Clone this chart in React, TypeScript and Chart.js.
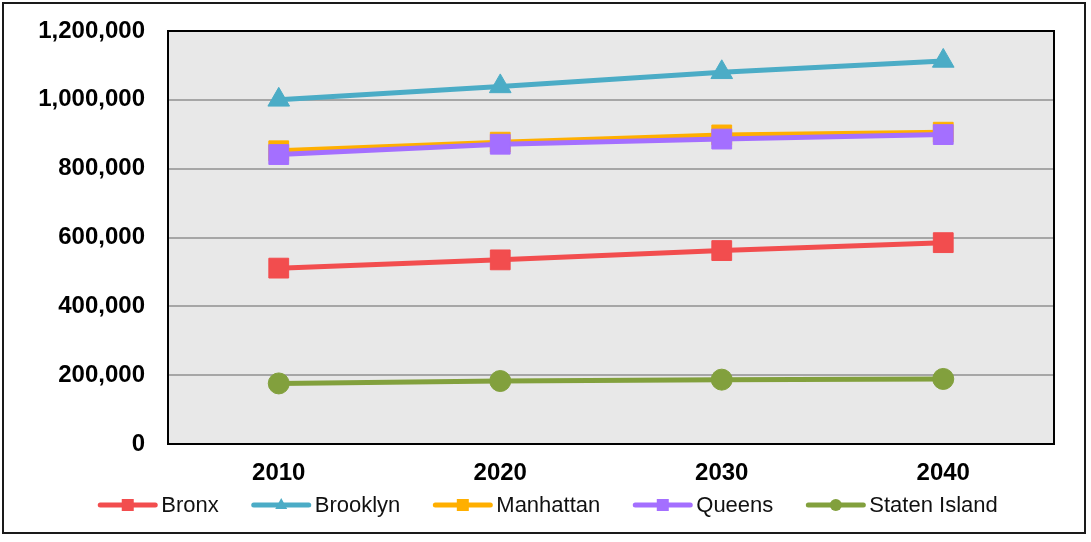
import React, { useEffect, useRef } from "react";
import { Chart, registerables } from "chart.js";

Chart.register(...registerables);

// Population by borough, projected by decade
const years = ["2010", "2020", "2030", "2040"];
const bronx = [511000, 535000, 562000, 585000];
const brooklyn = [1000000, 1039000, 1080000, 1113000];
const manhattan = [852000, 877000, 898000, 906000];
const queens = [841000, 871000, 886000, 899000];
const statenIsland = [176000, 183000, 187000, 189000];

const yTicks = [0, 200000, 400000, 600000, 800000, 1000000, 1200000];

const series = [
  { name: "Bronx", data: bronx, color: "#F24D4E", style: "rect", radius: 14 },
  { name: "Brooklyn", data: brooklyn, color: "#4BACC6", style: "triangle", radius: 12.5 },
  { name: "Manhattan", data: manhattan, color: "#FFAF00", style: "rect", radius: 14 },
  { name: "Queens", data: queens, color: "#A46FFF", style: "rect", radius: 14 },
  { name: "Staten Island", data: statenIsland, color: "#82A03D", style: "circle", radius: 10.5 },
];

const FONT = '"Liberation Sans", Arial, sans-serif';

const framePlugin = {
  id: "frame",
  beforeDraw(chart: any) {
    const { ctx, chartArea, width, height } = chart;
    ctx.save();
    ctx.fillStyle = "#FFFFFF";
    ctx.fillRect(0, 0, width, height);
    ctx.fillStyle = "#E8E8E8";
    ctx.fillRect(chartArea.left, chartArea.top, chartArea.right - chartArea.left, chartArea.bottom - chartArea.top);
    ctx.restore();
  },
  afterDraw(chart: any) {
    const { ctx, chartArea } = chart;
    ctx.save();
    // plot area border
    ctx.strokeStyle = "#000000";
    ctx.lineWidth = 2;
    ctx.strokeRect(chartArea.left, chartArea.top, chartArea.right - chartArea.left, chartArea.bottom - chartArea.top);
    // outer frame
    ctx.strokeStyle = "#1A1A1A";
    ctx.strokeRect(3, 3, 1082, 530);

    // legend: line sample with marker, then name
    ctx.font = `22px ${FONT}`;
    ctx.textBaseline = "middle";
    const lineW = 59;
    const gap = 4;
    const spacing = 33;
    const y = 505;
    const widths = series.map((s) => ctx.measureText(s.name).width);
    const total = widths.reduce((a, w) => a + lineW + gap + w, 0) + spacing * (series.length - 1);
    let x = 548 - total / 2;
    series.forEach((s, i) => {
      ctx.strokeStyle = s.color;
      ctx.fillStyle = s.color;
      ctx.lineWidth = 5;
      ctx.lineCap = "round";
      ctx.beginPath();
      ctx.moveTo(x + 2, y);
      ctx.lineTo(x + lineW - 2, y);
      ctx.stroke();
      const cx = x + lineW / 2;
      ctx.beginPath();
      if (s.style === "rect") {
        ctx.rect(cx - 6, y - 6, 12, 12);
      } else if (s.style === "triangle") {
        ctx.moveTo(cx, y - 7);
        ctx.lineTo(cx + 6, y + 4);
        ctx.lineTo(cx - 6, y + 4);
        ctx.closePath();
      } else {
        ctx.arc(cx, y, 6, 0, Math.PI * 2);
      }
      ctx.fill();
      ctx.fillStyle = "#111111";
      ctx.fillText(s.name, x + lineW + gap, y + 1);
      x += lineW + gap + widths[i] + spacing;
    });
    ctx.restore();
  },
};

export default function App() {
  const canvasRef = useRef<HTMLCanvasElement>(null);

  useEffect(() => {
    const canvas = canvasRef.current;
    if (!canvas) return;
    const chart = new Chart(canvas, {
      type: "line",
      data: {
        labels: years,
        datasets: series.map((s, i) => ({
          label: s.name,
          data: s.data,
          borderColor: s.color,
          backgroundColor: s.color,
          borderWidth: 5,
          pointStyle: s.style as any,
          pointRadius: s.radius,
          pointBackgroundColor: s.color,
          pointBorderColor: s.color,
          pointBorderWidth: 1,
          tension: 0,
          fill: false,
          order: series.length - i,
        })),
      },
      options: {
        responsive: false,
        animation: false,
        events: [],
        devicePixelRatio: 1,
        layout: { padding: { top: 31, right: 37, left: 0, bottom: 0 } },
        plugins: {
          legend: { display: false },
          tooltip: { enabled: false },
        },
        scales: {
          x: {
            offset: true,
            grid: { display: false, drawTicks: false },
            border: { display: false },
            ticks: {
              padding: 15,
              color: "#000000",
              font: { family: FONT, size: 24, weight: "bold" },
            },
            afterFit: (scale: any) => {
              scale.height = 98;
            },
          },
          y: {
            min: 0,
            max: 1200000,
            afterBuildTicks: (scale: any) => {
              scale.ticks = yTicks.map((v) => ({ value: v }));
            },
            grid: { color: "#A6A6A6", lineWidth: 2, drawTicks: false },
            border: { display: false },
            ticks: {
              padding: 23,
              color: "#000000",
              font: { family: FONT, size: 24, weight: "bold" },
              callback: (v: any) => Number(v).toLocaleString("en-US"),
            },
            afterFit: (scale: any) => {
              scale.width = 168;
              scale.paddingTop = 0;
              scale.paddingBottom = 0;
            },
          },
        },
      },
      plugins: [framePlugin],
    });
    return () => chart.destroy();
  }, []);

  return (
    <div style={{ position: "absolute", left: 0, top: 0, width: 1091, height: 542 }}>
      <canvas ref={canvasRef} width={1091} height={542} style={{ display: "block" }} />
    </div>
  );
}
